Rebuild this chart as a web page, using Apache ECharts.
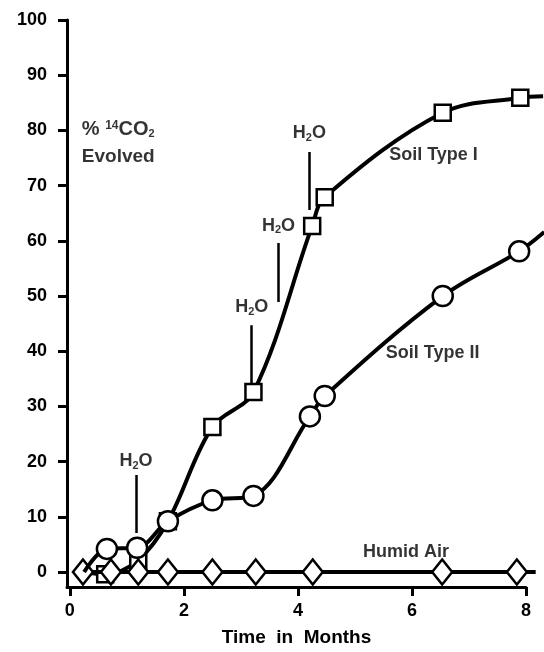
<!DOCTYPE html>
<html>
<head>
<meta charset="utf-8">
<script src="https://cdn.jsdelivr.net/npm/echarts@6/dist/echarts.min.js"></script>
<style>
  html, body { margin: 0; padding: 0; background: #fff; }
  #main { width: 544px; height: 652px; }
</style>
</head>
<body>
<div id="main"></div>
<script>
// time in months / % 14CO2 evolved
// first / last points without a marker are just where the curve is drawn to
const soil1X = [0.25, 0.62, 1.2, 1.72, 2.5, 3.22, 4.25, 4.47, 6.54, 7.9, 8.3];
const soil1Y = [0, -0.4, 2.2, 9.2, 26.3, 32.6, 62.7, 67.9, 83.2, 85.9, 86.2];
const soil1Marked = [0, 1, 1, 1, 1, 1, 1, 1, 1, 1, 0];

const soil2X = [0.25, 0.65, 1.18, 1.72, 2.5, 3.22, 4.21, 4.47, 6.54, 7.88, 8.32];
const soil2Y = [0, 4.2, 4.4, 9.2, 13.0, 13.8, 28.2, 31.9, 50.0, 58.1, 61.6];
const soil2Marked = [0, 1, 1, 1, 1, 1, 1, 1, 1, 1, 0];

const airX = [0.23, 0.72, 1.2, 1.72, 2.5, 3.26, 4.26, 6.53, 7.84, 8.17];
const airY = [0, 0, 0, 0, 0, 0, 0, 0, 0, 0];
const airMarked = [1, 1, 1, 1, 1, 1, 1, 1, 1, 0];

// water additions: x, label y, line top, line bottom
const h2oX = [1.16, 3.19, 3.66, 4.2];
const h2oLabelY = [20.1, 48.0, 62.7, 79.5];
const h2oLineTop = [17.6, 44.7, 59.6, 76.1];
const h2oLineBottom = [7.1, 33.9, 48.9, 65.6];

const xTicks = [0, 2, 4, 6, 8];
const yTicks = [0, 10, 20, 30, 40, 50, 60, 70, 80, 90, 100];

const FONT = "'Liberation Sans', Arial, Helvetica, sans-serif";

// the curves run a little past the end of the x axis, so they are drawn
// on a second, hidden grid with the same scale but a longer x range
const X_MIN = -0.05, X_MAX = 8, X_MAX_DRAW = 8.35;
const Y_MIN = -2.7, Y_MAX = 100;
const GRID_LEFT = 67, GRID_TOP = 20, GRID_BOTTOM = 65;
const AXIS_WIDTH = 544 - 18 - GRID_LEFT;
const pxPerMonth = AXIS_WIDTH / (X_MAX - X_MIN);

function pairs(xs, ys) {
  return xs.map((x, i) => [x, ys[i]]);
}
function symbolFor(shape, marked) {
  return (value, params) => (marked[params.dataIndex] ? shape : "none");
}

const chartDom = document.getElementById("main");
const myChart = echarts.init(chartDom);

const markerStyle = { color: "#fff", borderColor: "#000", borderWidth: 2.5 };

const textStyle = {
  show: true,
  color: "#000",
  fontFamily: FONT,
  fontWeight: "bold",
  fontSize: 18,
  lineHeight: 20,
  rich: {
    sub: { fontSize: 11, fontWeight: "bold", fontFamily: FONT, color: "#000", lineHeight: 10, verticalAlign: "bottom" },
    sup: { fontSize: 12, fontWeight: "bold", fontFamily: FONT, color: "#000", lineHeight: 13, verticalAlign: "top" }
  }
};

const option = {
  animation: false,
  backgroundColor: "#fff",
  grid: [
    { left: GRID_LEFT, width: AXIS_WIDTH, top: GRID_TOP, bottom: GRID_BOTTOM, containLabel: false, outerBoundsMode: "none" },
    { left: GRID_LEFT, width: pxPerMonth * (X_MAX_DRAW - X_MIN), top: GRID_TOP, bottom: GRID_BOTTOM, containLabel: false, outerBoundsMode: "none" }
  ],
  xAxis: [
    {
      type: "value",
      gridIndex: 0,
      min: X_MIN,
      max: X_MAX,
      name: "Time  in  Months",
      nameLocation: "middle",
      nameGap: 41,
      nameTextStyle: { fontFamily: FONT, fontWeight: "bold", fontSize: 19, color: "#000" },
      axisLine: { onZero: false, lineStyle: { color: "#000", width: 3 } },
      axisTick: { show: true, customValues: xTicks, length: 9, lineStyle: { color: "#000", width: 3 } },
      axisLabel: { customValues: xTicks, margin: 15, fontFamily: FONT, fontWeight: "bold", fontSize: 18, color: "#000" },
      splitLine: { show: false }
    },
    {
      type: "value",
      gridIndex: 1,
      min: X_MIN,
      max: X_MAX_DRAW,
      show: false
    }
  ],
  yAxis: [
    {
      type: "value",
      gridIndex: 0,
      min: Y_MIN,
      max: Y_MAX,
      axisLine: { show: true, onZero: false, lineStyle: { color: "#000", width: 3 } },
      axisTick: { show: true, customValues: yTicks, length: 9, lineStyle: { color: "#000", width: 3 } },
      axisLabel: { customValues: yTicks, margin: 20, fontFamily: FONT, fontWeight: "bold", fontSize: 18, color: "#000" },
      splitLine: { show: false }
    },
    {
      type: "value",
      gridIndex: 1,
      min: Y_MIN,
      max: Y_MAX,
      show: false
    }
  ],
  series: [
    {
      name: "Soil Type I",
      type: "line",
      xAxisIndex: 1,
      yAxisIndex: 1,
      z: 2,
      smooth: 0.35,
      symbol: symbolFor("rect", soil1Marked),
      symbolSize: 16,
      showAllSymbol: true,
      lineStyle: { color: "#000", width: 4 },
      itemStyle: markerStyle,
      data: pairs(soil1X, soil1Y)
    },
    {
      name: "Humid Air",
      type: "line",
      xAxisIndex: 1,
      yAxisIndex: 1,
      z: 3,
      symbol: symbolFor("diamond", airMarked),
      symbolSize: [20, 25],
      showAllSymbol: true,
      lineStyle: { color: "#000", width: 4 },
      itemStyle: markerStyle,
      data: pairs(airX, airY)
    },
    {
      name: "Soil Type II",
      type: "line",
      xAxisIndex: 1,
      yAxisIndex: 1,
      z: 4,
      smooth: 0.35,
      symbol: symbolFor("circle", soil2Marked),
      symbolSize: 20,
      showAllSymbol: true,
      lineStyle: { color: "#000", width: 4 },
      itemStyle: markerStyle,
      data: pairs(soil2X, soil2Y)
    },
    {
      name: "H2O lines",
      type: "lines",
      coordinateSystem: "cartesian2d",
      xAxisIndex: 1,
      yAxisIndex: 1,
      silent: true,
      lineStyle: { color: "#000", width: 2.5, opacity: 1 },
      data: h2oX.map((x, i) => ({ coords: [[x, h2oLineTop[i]], [x, h2oLineBottom[i]]] }))
    },
    {
      name: "labels",
      type: "scatter",
      xAxisIndex: 1,
      yAxisIndex: 1,
      silent: true,
      symbolSize: 0,
      z: 5,
      label: textStyle,
      data: [
        ...h2oX.map((x, i) => ({
          value: [x, h2oLabelY[i]],
          label: { position: "inside", formatter: "H{sub|2}O" }
        })),
        { value: [0.21, 80.1], label: { position: "right", distance: 0, fontSize: 20, formatter: "% {sup|14}CO{sub|2}" } },
        { value: [0.21, 75.2], label: { position: "right", distance: 0, fontSize: 19, formatter: "Evolved" } },
        { value: [5.6, 75.5], label: { position: "right", distance: 0, formatter: "Soil Type I" } },
        { value: [5.54, 39.7], label: { position: "right", distance: 0, formatter: "Soil Type II" } },
        { value: [5.14, 3.6], label: { position: "right", distance: 0, formatter: "Humid Air" } }
      ]
    }
  ]
};

myChart.setOption(option);
</script>
</body>
</html>
